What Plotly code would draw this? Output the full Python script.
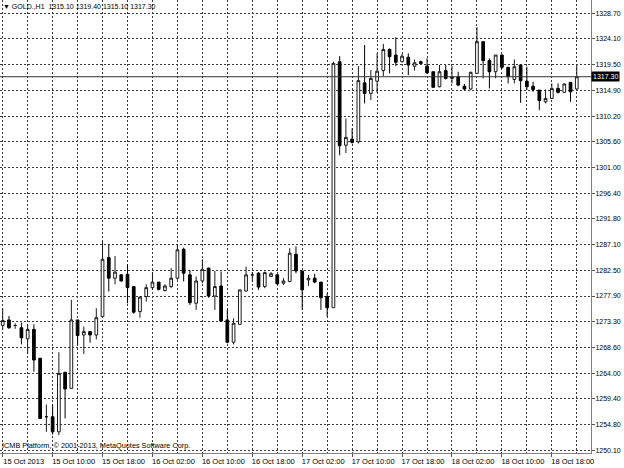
import pandas as pd
import plotly.graph_objects as go

# ---- data (GOLD., H1) ----
start_time = "2013-10-15 02:00"
opens = [1272.6, 1273.6, 1272.6, 1272.2, 1270.2, 1271.9, 1266.7, 1256.2, 1256.2, 1253.5,
         1264.2, 1261.3, 1273.6, 1270.9, 1271.5, 1270.9, 1274.2, 1284.8, 1281.1, 1281.7,
         1281.8, 1279.6, 1275.1, 1277.8, 1279.4, 1280.4, 1278.9, 1279.6, 1281.1, 1286.3,
         1281.7, 1276.6, 1280.6, 1282.9, 1277.9, 1279.7, 1273.6, 1269.6, 1272.8, 1278.8,
         1281.7, 1282.0, 1279.6, 1281.4, 1281.7, 1280.2, 1280.5, 1285.4, 1282.4, 1280.8,
         1281.1, 1280.4, 1277.8, 1275.8, 1320.0, 1305.0, 1306.1, 1305.6, 1316.2, 1314.3,
         1316.5, 1318.4, 1322.2, 1321.2, 1320.0, 1320.8, 1319.2, 1320.0, 1319.2, 1318.2,
         1315.5, 1318.4, 1317.0, 1317.3, 1315.6, 1315.1, 1317.9, 1323.6, 1320.2, 1318.2,
         1321.2, 1319.0, 1316.8, 1319.4, 1316.5, 1315.6, 1314.9, 1312.8, 1313.4, 1315.2,
         1314.5, 1316.3, 1315.1]
highs = [1275.7, 1274.3, 1273.0, 1273.1, 1272.8, 1272.8, 1266.8, 1258.4, 1258.4, 1267.8,
         1264.2, 1277.2, 1273.6, 1272.4, 1271.5, 1275.7, 1287.8, 1287.1, 1285.1, 1281.8,
         1283.6, 1279.6, 1277.8, 1280.0, 1282.2, 1280.4, 1280.0, 1282.9, 1287.2, 1286.6,
         1282.6, 1281.4, 1284.5, 1283.0, 1282.4, 1282.3, 1275.4, 1273.9, 1279.0, 1283.2,
         1282.2, 1282.2, 1282.3, 1282.2, 1281.8, 1281.1, 1286.5, 1286.8, 1282.4, 1281.7,
         1281.9, 1280.4, 1278.4, 1320.0, 1321.0, 1309.8, 1308.0, 1319.2, 1323.0, 1318.5,
         1321.5, 1323.2, 1322.4, 1324.4, 1321.4, 1321.5, 1320.4, 1320.2, 1320.6, 1318.2,
         1319.4, 1319.4, 1319.2, 1318.2, 1316.0, 1318.2, 1326.2, 1323.6, 1320.6, 1321.2,
         1321.3, 1319.0, 1320.4, 1319.4, 1319.1, 1316.4, 1314.9, 1315.0, 1316.1, 1316.1,
         1316.1, 1316.3, 1319.4]
lows = [1271.8, 1272.0, 1272.0, 1269.2, 1267.5, 1264.3, 1255.8, 1253.5, 1253.0, 1252.9,
        1255.9, 1261.3, 1269.1, 1267.5, 1269.5, 1270.1, 1274.2, 1278.7, 1280.0, 1280.5,
        1276.6, 1274.7, 1274.0, 1276.9, 1279.0, 1278.9, 1278.7, 1279.3, 1280.8, 1280.5,
        1276.3, 1275.4, 1280.2, 1277.6, 1275.4, 1273.3, 1269.4, 1269.2, 1272.8, 1278.7,
        1280.5, 1279.0, 1279.3, 1281.4, 1279.9, 1279.9, 1280.4, 1282.0, 1275.4, 1279.7,
        1280.2, 1275.4, 1274.2, 1275.8, 1303.2, 1303.6, 1305.3, 1305.3, 1312.5, 1313.1,
        1314.4, 1317.4, 1317.9, 1319.2, 1319.9, 1317.6, 1318.4, 1319.6, 1317.8, 1315.4,
        1315.4, 1316.8, 1316.1, 1315.6, 1314.9, 1314.9, 1317.9, 1317.0, 1315.2, 1317.0,
        1318.7, 1316.1, 1316.1, 1312.6, 1314.9, 1314.6, 1311.3, 1312.5, 1313.3, 1314.3,
        1314.4, 1312.8, 1315.1]
closes = [1273.5, 1272.2, 1272.6, 1270.4, 1271.9, 1266.4, 1255.9, 1256.2, 1253.5, 1264.0,
          1261.2, 1273.6, 1270.8, 1271.5, 1270.9, 1274.0, 1284.5, 1281.1, 1282.2, 1280.6,
          1279.4, 1275.0, 1277.7, 1279.4, 1280.4, 1279.1, 1279.7, 1281.1, 1286.2, 1282.0,
          1276.7, 1280.6, 1282.7, 1277.9, 1279.6, 1273.4, 1269.6, 1273.0, 1279.0, 1281.7,
          1281.7, 1279.5, 1282.1, 1281.9, 1280.1, 1280.6, 1285.6, 1282.4, 1279.0, 1281.1,
          1280.4, 1277.6, 1275.8, 1319.7, 1304.9, 1306.4, 1305.5, 1316.6, 1314.3, 1317.0,
          1318.3, 1322.2, 1320.9, 1319.9, 1321.0, 1319.4, 1319.8, 1319.7, 1318.0, 1315.4,
          1318.2, 1317.0, 1317.3, 1315.8, 1315.1, 1318.1, 1323.6, 1320.2, 1318.2, 1321.2,
          1319.0, 1317.3, 1319.1, 1316.6, 1315.5, 1315.0, 1313.0, 1313.4, 1315.2, 1314.5,
          1316.0, 1314.6, 1317.3]

price_ticks = [1250.10, 1254.80, 1259.40, 1264.00, 1268.60, 1273.30, 1277.90, 1282.50,
               1287.10, 1291.80, 1296.40, 1301.00, 1305.60, 1310.20, 1314.90, 1319.50,
               1324.10, 1328.70]
time_tick_labels = ["15 Oct 2013", "15 Oct 10:00", "15 Oct 18:00", "16 Oct 02:00",
                    "16 Oct 10:00", "16 Oct 18:00", "17 Oct 02:00", "17 Oct 10:00",
                    "17 Oct 18:00", "18 Oct 02:00", "18 Oct 10:00", "18 Oct 18:00"]
header_text = "GOLD.,H1  1315.10 1319.40 1315.10 1317.30"
last_price = 1317.30
copyright_text = "ICMB Platform, © 2001-2013, MetaQuotes Software Corp."

times = pd.date_range(start_time, periods=len(opens), freq="h")
tick_times = pd.date_range(start_time, periods=len(time_tick_labels), freq="8h")

FONT = "Liberation Sans, Arial, sans-serif"
GRID = "#3a3a3a"

fig = go.Figure()
fig.add_trace(go.Candlestick(
    x=times, open=opens, high=highs, low=lows, close=closes,
    increasing=dict(line=dict(color="#1a1a1a", width=1), fillcolor="#ffffff"),
    decreasing=dict(line=dict(color="#000000", width=1), fillcolor="#000000"),
    whiskerwidth=0, showlegend=False, hoverinfo="skip",
))

t0 = pd.Timestamp(start_time)
hour = pd.Timedelta(hours=1)
x_lo = t0 - 0.433 * hour
x_hi = t0 + 94.28 * hour

fig.update_layout(
    width=624, height=468,
    margin=dict(l=0, r=33, t=0, b=15, autoexpand=False),
    paper_bgcolor="#ffffff", plot_bgcolor="#ffffff",
    boxgap=0.38,
    font=dict(family=FONT, size=7.5, color="#000000"),
    xaxis=dict(
        type="date", range=[x_lo, x_hi], rangeslider=dict(visible=False),
        automargin=False,
        tickmode="array", tickvals=tick_times, ticktext=time_tick_labels,
        ticks="outside", ticklen=3, tickcolor="#555555",
        ticklabelshift=21, ticklabelstandoff=-2, tickfont=dict(size=7.5),
        showgrid=True, gridcolor=GRID, griddash="2px,2px", gridwidth=1,
        minor=dict(dtick=4 * 3600 * 1000, tick0=start_time, showgrid=True,
                   gridcolor=GRID, griddash="2px,2px", gridwidth=1, ticks=""),
        showline=True, linecolor="#808080", linewidth=1, mirror=True,
        zeroline=False, fixedrange=True,
    ),
    yaxis=dict(
        side="right", range=[1249.69, 1331.09], automargin=False,
        tickmode="array", tickvals=price_ticks,
        ticktext=[f"{v:.2f}" for v in price_ticks],
        ticks="outside", ticklen=3, tickcolor="#555555",
        ticklabelstandoff=-1, tickfont=dict(size=7),
        showgrid=True, gridcolor=GRID, griddash="2px,2px", gridwidth=1,
        showline=True, linecolor="#808080", linewidth=1, mirror=True,
        zeroline=False, fixedrange=True,
    ),
)

# current price line and its label
fig.add_hline(y=last_price, line=dict(color="#333333", width=1), layer="above")
fig.add_annotation(
    xref="paper", yref="y", x=1, y=last_price, xanchor="left", yanchor="middle",
    xshift=0, text=f"{last_price:.2f}", showarrow=False,
    bgcolor="#000000", font=dict(color="#ffffff", size=7, family=FONT),
    borderpad=1,
)
# header
fig.add_annotation(
    xref="paper", yref="paper", x=0, y=1, xanchor="left", yanchor="top",
    xshift=1, yshift=-1, text="▼ " + header_text, showarrow=False,
    font=dict(color="#000000", size=7, family=FONT),
)
# copyright
fig.add_annotation(
    xref="paper", yref="paper", x=0, y=0, xanchor="left", yanchor="bottom",
    xshift=0, yshift=1, text=copyright_text, showarrow=False,
    font=dict(color="#000000", size=7.3, family=FONT),
)

fig.write_html("out.html", config={"displayModeBar": False},
               post_script="document.body.style.margin='0px';")
